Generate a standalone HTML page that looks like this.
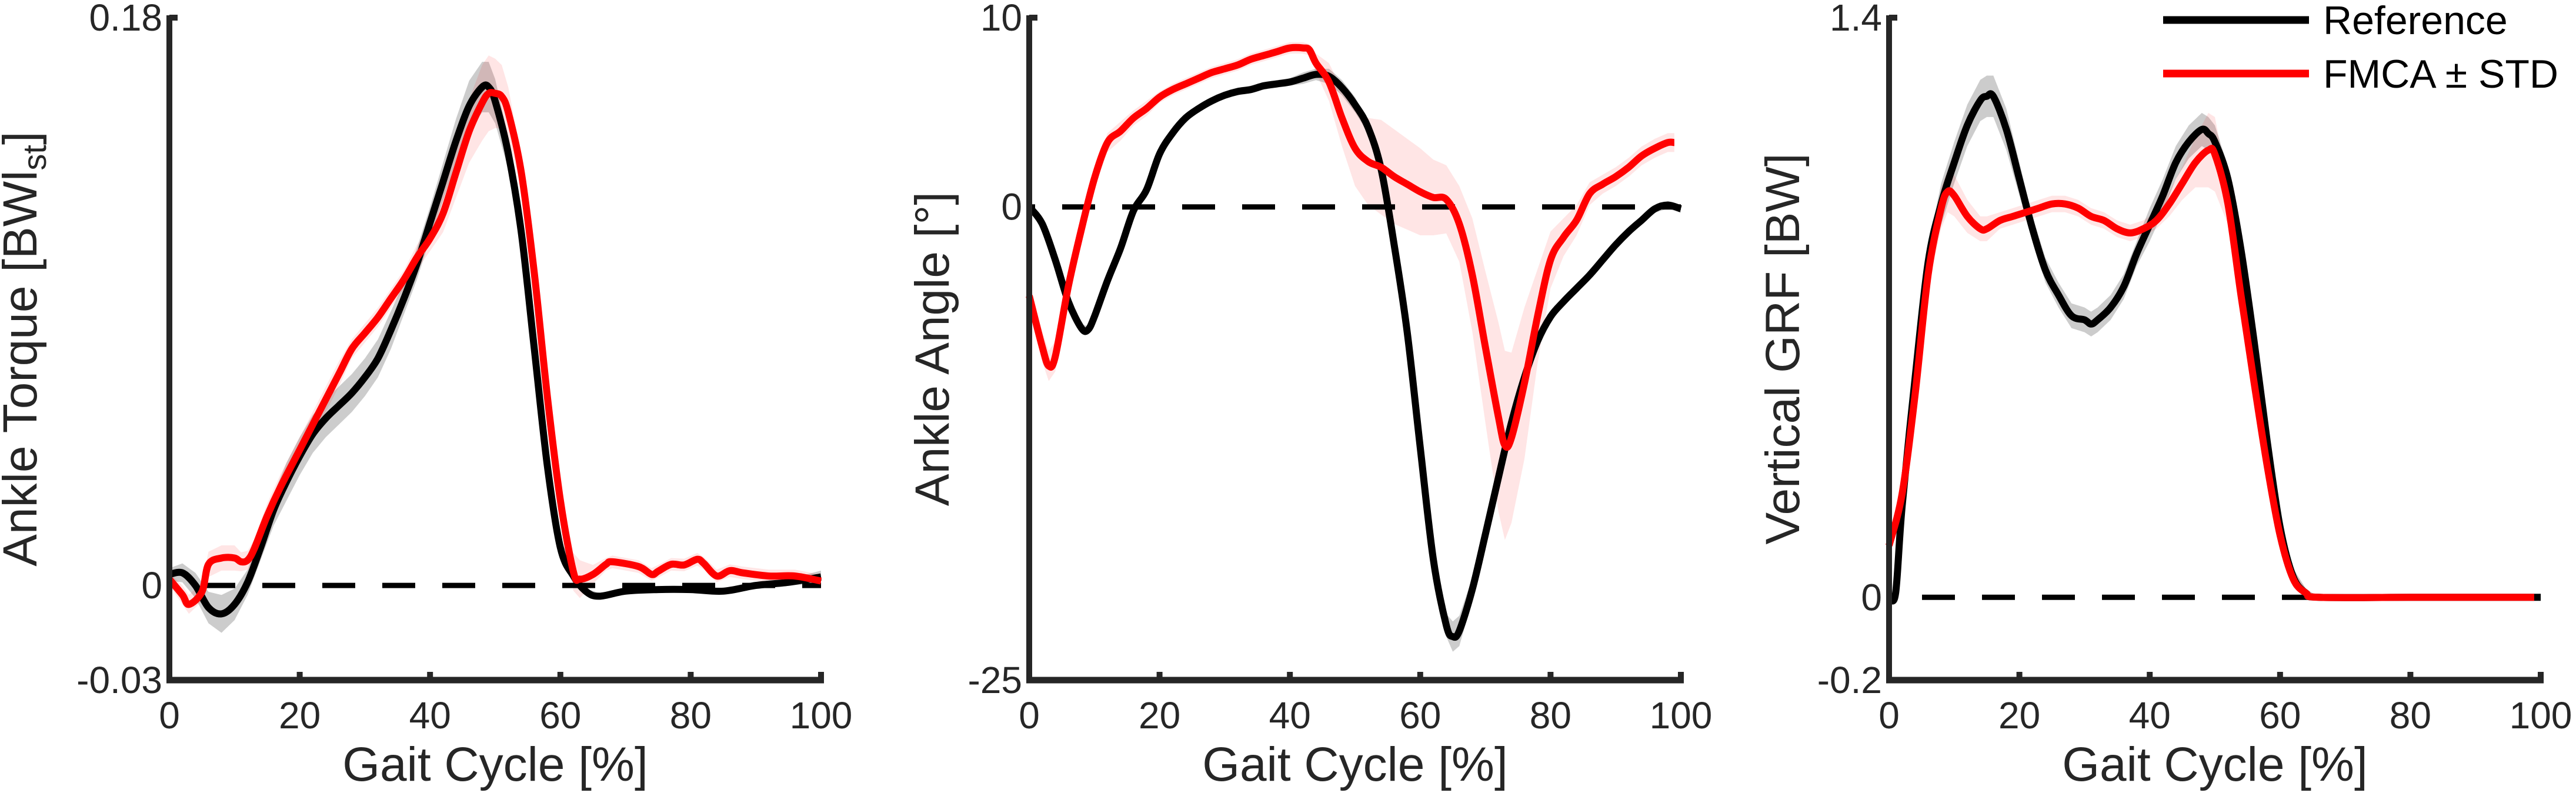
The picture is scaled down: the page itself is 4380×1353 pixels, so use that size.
<!DOCTYPE html>
<html><head><meta charset="utf-8"><style>
html,body{margin:0;padding:0;background:#fff;overflow:hidden;}
svg{display:block;font-family:"Liberation Sans",Arial,sans-serif;}
</style></head><body>
<svg id="fig" width="4380" height="1353" viewBox="0 0 4380 1353" xmlns="http://www.w3.org/2000/svg">
<rect width="4380" height="1353" fill="#fff"/>
<g id="legend">
  <line x1="3678" y1="34" x2="3926" y2="34" stroke="#000" stroke-width="13"/>
  <text x="3950" y="58" font-size="68" fill="#000">Reference</text>
  <line x1="3678" y1="125" x2="3926" y2="125" stroke="#ff0000" stroke-width="13"/>
  <text x="3950" y="149" font-size="68" fill="#000">FMCA ± STD</text>
</g>
</svg>
<script>
// Panel 1: ankle torque
const p1RefX=[0,2,4,6,8,10,12,14,16,18,20,22,24,26,28,30,32,34,36,38,40,42,44,46,48,49,50,52,54,56,58,60,62,64,66,70,75,80,85,90,95,100];
const p1RefY=[0.0035,0.004,0,-0.007,-0.009,-0.006,0.001,0.012,0.024,0.033,0.041,0.048,0.053,0.057,0.061,0.066,0.072,0.081,0.091,0.102,0.115,0.128,0.141,0.152,0.158,0.158,0.1535,0.137,0.112,0.075,0.038,0.012,0.003,-0.002,-0.0034,-0.0018,-0.0013,-0.0013,-0.0018,0,0.001,0.0027];
const p1RefS=[0.002,0.003,0.004,0.005,0.006,0.005,0.004,0.004,0.005,0.006,0.006,0.006,0.006,0.006,0.006,0.006,0.006,0.006,0.005,0.005,0.005,0.006,0.007,0.008,0.008,0.008,0.007,0.005,0.004,0.003,0.003,0.003,0.002,0.001,0.001,0.001,0.001,0.001,0.001,0.001,0.001,0.002];
const p1FmX=[0,2,3,5,6,8,10,11,12,13,15,17,20,23,26,28,30,32,34,36,38,40,42,44,46,48,49,50,51,52,54,56,58,60,62,63,65,67,68,72,74,75,77,79,81,82,84,86,88,92,96,100];
const p1FmY=[0.002,-0.003,-0.006,-0.002,0.0067,0.0087,0.0087,0.0075,0.008,0.0115,0.022,0.031,0.043,0.055,0.067,0.075,0.08,0.085,0.091,0.097,0.104,0.11,0.118,0.131,0.144,0.153,0.156,0.156,0.155,0.15,0.131,0.099,0.06,0.027,0.0043,0.002,0.0035,0.0067,0.0075,0.006,0.0035,0.0045,0.0067,0.0065,0.0083,0.007,0.003,0.0047,0.004,0.003,0.003,0.0014];
const p1FmS=[0.002,0.003,0.003,0.003,0.004,0.004,0.004,0.003,0.003,0.003,0.004,0.004,0.004,0.004,0.004,0.003,0.003,0.003,0.003,0.003,0.004,0.004,0.006,0.008,0.010,0.012,0.012,0.011,0.010,0.008,0.005,0.004,0.004,0.004,0.006,0.006,0.003,0.002,0.002,0.002,0.002,0.002,0.002,0.002,0.002,0.002,0.002,0.002,0.002,0.002,0.002,0.002];
// Panel 2: ankle angle
const p2RefX=[0,2,4,6,8,9,10,12,14,16,18,20,22,24,26,28,30,32,34,36,38,40,42,44,46,48,50,52,54,56,58,60,62,64,65,66,68,70,72,74,76,78,80,82,84,86,88,90,92,94,96,98,100];
const p2RefY=[0,-0.9,-2.8,-5,-6.4,-6.5,-5.8,-3.9,-2.2,-0.2,0.9,2.8,3.9,4.7,5.2,5.6,5.9,6.1,6.2,6.4,6.5,6.6,6.8,7.0,6.9,6.3,5.4,4.2,2.0,-2,-6.6,-12.7,-18.6,-22.1,-22.7,-22.4,-20.2,-17.3,-14.3,-11.4,-9,-7.1,-5.8,-5,-4.3,-3.6,-2.8,-2,-1.3,-0.7,-0.1,0.1,-0.1];
const p2RefS=[0.2,0.2,0.2,0.2,0.2,0.2,0.2,0.2,0.2,0.2,0.2,0.2,0.2,0.2,0.2,0.2,0.2,0.2,0.2,0.2,0.2,0.2,0.3,0.3,0.4,0.4,0.4,0.3,0.3,0.3,0.3,0.3,0.4,0.6,0.8,0.8,0.6,0.3,0.2,0.2,0.2,0.2,0.2,0.2,0.2,0.2,0.2,0.2,0.2,0.2,0.2,0.2,0.2];
const p2FmX=[0,2,3,4,6,8,10,12,14,16,18,20,22,24,26,28,30,32,34,36,38,40,42,43,44,46,48,50,52,54,56,58,60,62,64,66,68,70,72,73,74,76,78,80,82,84,86,88,90,92,94,96,98,99];
const p2FmY=[-4.7,-7.4,-8.4,-7.9,-4.2,-1.2,1.5,3.4,4.0,4.7,5.2,5.8,6.2,6.5,6.8,7.1,7.3,7.5,7.8,8.0,8.2,8.4,8.4,8.3,7.6,6.6,4.7,3.1,2.4,2.1,1.6,1.2,0.8,0.5,0.4,-0.9,-3.6,-7.4,-11.1,-12.6,-12.2,-9.3,-5.8,-2.8,-1.6,-0.7,0.7,1.2,1.6,2.1,2.7,3.1,3.4,3.4];
const p2FmS=[0.8,0.8,0.8,0.8,0.6,0.5,0.5,0.5,0.5,0.4,0.4,0.3,0.3,0.3,0.3,0.3,0.3,0.3,0.3,0.3,0.3,0.3,0.3,0.3,0.5,1.0,1.5,2.0,2.3,2.5,2.5,2.4,2.3,2.0,1.8,2.0,3.0,4.0,5.0,5.0,4.5,4.0,2.5,1.5,1.0,0.8,0.6,0.5,0.5,0.5,0.5,0.5,0.5,0.5];
// Panel 3: vertical GRF
const p3RefX=[0,1,2,4,6,8,10,12,14,15,16,18,20,22,24,26,28,30,31,32,34,36,38,40,42,44,46,48,49,50,52,54,56,58,60,62,64,66,80,100];
const p3RefY=[0,0.01,0.22,0.53,0.81,0.95,1.05,1.14,1.20,1.21,1.21,1.13,1.01,0.89,0.79,0.73,0.68,0.67,0.66,0.67,0.70,0.75,0.83,0.90,0.97,1.05,1.10,1.13,1.12,1.10,1.01,0.84,0.62,0.38,0.17,0.05,0.01,0,0,0];
const p3RefS=[0,0.01,0.02,0.03,0.04,0.05,0.05,0.05,0.05,0.05,0.05,0.05,0.04,0.03,0.03,0.03,0.03,0.03,0.03,0.03,0.03,0.03,0.03,0.04,0.04,0.04,0.04,0.04,0.04,0.04,0.03,0.03,0.03,0.02,0.02,0.02,0.01,0,0,0];
const p3FmX=[0,2,4,6,8,9,10,12,14,15,17,19,21,23,25,27,29,31,33,35,37,39,41,43,45,47,49,50,52,54,56,58,60,62,64,66,80,99];
const p3FmY=[0.125,0.25,0.49,0.78,0.94,0.98,0.97,0.92,0.89,0.89,0.91,0.92,0.93,0.94,0.95,0.95,0.94,0.92,0.91,0.89,0.88,0.89,0.91,0.95,1.00,1.05,1.08,1.07,0.95,0.73,0.52,0.32,0.15,0.045,0.01,0,0,0];
const p3FmS=[0.01,0.01,0.02,0.03,0.05,0.05,0.05,0.04,0.03,0.03,0.02,0.02,0.02,0.02,0.02,0.02,0.02,0.02,0.02,0.02,0.02,0.02,0.02,0.03,0.04,0.06,0.09,0.09,0.05,0.03,0.02,0.02,0.02,0.02,0.01,0,0,0];
const xTicks=[0,20,40,60,80,100];
const p1YTicks=["-0.03","0","0.18"];
const p2YTicks=["-25","0","10"];
const p3YTicks=["-0.2","0","1.4"];

const NS="http://www.w3.org/2000/svg";
const svg=document.getElementById('fig');
function mk(tag,attrs,parent){const e=document.createElementNS(NS,tag);for(const k in attrs)e.setAttribute(k,attrs[k]);(parent||svg).appendChild(e);return e;}
function smooth(pts){let d="M"+pts[0][0].toFixed(1)+","+pts[0][1].toFixed(1);
  for(let i=0;i<pts.length-1;i++){const p0=pts[i-1]||pts[i],p1=pts[i],p2=pts[i+1],p3=pts[i+2]||p2;
    const c1=[p1[0]+(p2[0]-p0[0])/6,p1[1]+(p2[1]-p0[1])/6],c2=[p2[0]-(p3[0]-p1[0])/6,p2[1]-(p3[1]-p1[1])/6];
    d+="C"+c1[0].toFixed(1)+","+c1[1].toFixed(1)+" "+c2[0].toFixed(1)+","+c2[1].toFixed(1)+" "+p2[0].toFixed(1)+","+p2[1].toFixed(1);}
  return d;}

const TOP=30,BOT=1156,W=1108;
const panels=[
 {id:'torque',left:288,ymin:-0.03,ymax:0.18,ticks:p1YTicks,label:'Ankle Torque [BWl',sub:'st',labelX:62,ref:[p1RefX,p1RefY,p1RefS],fm:[p1FmX,p1FmY,p1FmS]},
 {id:'angle',left:1750,ymin:-25,ymax:10,ticks:p2YTicks,label:'Ankle Angle [°]',labelX:1613,ref:[p2RefX,p2RefY,p2RefS],fm:[p2FmX,p2FmY,p2FmS]},
 {id:'grf',left:3212,ymin:-0.2,ymax:1.4,ticks:p3YTicks,label:'Vertical GRF [BW]',labelX:3059,ref:[p3RefX,p3RefY,p3RefS],fm:[p3FmX,p3FmY,p3FmS]}
];
panels.forEach(p=>{
  const g=mk('g',{});
  
  
  const sx=v=>p.left+v/100*W;
  const sy=v=>BOT-(v-p.ymin)/(p.ymax-p.ymin)*(BOT-TOP);
  function band(s,fill,name){
    const [xs,ys,ss]=s;const up=xs.map((x,i)=>[sx(x),sy(ys[i]+ss[i])]);const dn=xs.map((x,i)=>[sx(x),sy(ys[i]-ss[i])]).reverse();
    const poly=mk('polygon',{points:up.concat(dn).map(q=>q[0].toFixed(1)+','+q[1].toFixed(1)).join(' '),fill:fill},g);
    
    
  }
  function line(s,col,name){
    const [xs,ys]=s;const path=mk('path',{d:smooth(xs.map((x,i)=>[sx(x),sy(ys[i])])),fill:'none',stroke:col,'stroke-width':12,'stroke-linejoin':'round','stroke-linecap':'butt'},g);
    
    
  }
  band(p.ref,'rgba(0,0,0,0.2)','reference-std-band');
  band(p.fm,'rgba(255,0,0,0.1)','fmca-std-band');
  const z=mk('line',{x1:sx(0),y1:sy(0),x2:sx(100),y2:sy(0),stroke:'#000','stroke-width':9,'stroke-dasharray':'56 46','stroke-dashoffset':'-56'},g);
  
  
  line(p.ref,'#000','reference-line');
  line(p.fm,'#ff0000','fmca-line');
  const ya=mk('line',{x1:p.left,y1:TOP-4,x2:p.left,y2:BOT+5,stroke:'#262626','stroke-width':10},g);
  
  
  const xa=mk('line',{x1:p.left-5,y1:BOT,x2:p.left+W+5,y2:BOT,stroke:'#262626','stroke-width':11},g);
  
  
  mk('line',{x1:p.left,y1:TOP,x2:p.left+14,y2:TOP,stroke:'#262626','stroke-width':10},g);
  xTicks.forEach(t=>{
    mk('line',{x1:sx(t),y1:BOT,x2:sx(t),y2:BOT-14,stroke:'#262626','stroke-width':10},g);
    const tl=mk('text',{x:sx(t),y:1238,'font-size':64,'text-anchor':'middle',fill:'#262626'},g);
    tl.textContent=t;
    
    
  });
  p.ticks.forEach(t=>{
    const tl=mk('text',{x:p.left-12,y:sy(parseFloat(t))+22,'font-size':64,'text-anchor':'end',fill:'#262626'},g);
    tl.textContent=t;
    
    
  });
  const xl=mk('text',{x:p.left+W/2,y:1327,'font-size':82,'text-anchor':'middle',fill:'#262626'},g);
  xl.textContent='Gait Cycle [%]';
  
  
  const yl=mk('text',{x:0,y:0,'font-size':82,'text-anchor':'middle',fill:'#262626',transform:'translate('+p.labelX+','+(TOP+BOT)/2+') rotate(-90)'},g);
  yl.textContent=p.label;
  if(p.sub){const s=mk('tspan',{'font-size':56,dy:16},yl);s.textContent=p.sub;const e=mk('tspan',{dy:-16},yl);e.textContent=']';}
  
  
});
svg.appendChild(document.getElementById('legend'));
</script>
</body></html>
